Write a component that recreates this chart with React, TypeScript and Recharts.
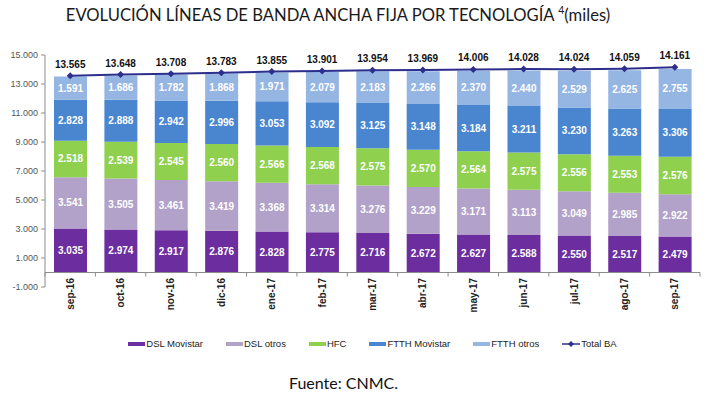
import { ComposedChart, Bar, Line, XAxis, YAxis, LabelList, ReferenceLine } from 'recharts'

const months = ['sep-16', 'oct-16', 'nov-16', 'dic-16', 'ene-17', 'feb-17', 'mar-17', 'abr-17', 'may-17', 'jun-17', 'jul-17', 'ago-17', 'sep-17']
const dslMovistar = [3035, 2974, 2917, 2876, 2828, 2775, 2716, 2672, 2627, 2588, 2550, 2517, 2479]
const dslOtros = [3541, 3505, 3461, 3419, 3368, 3314, 3276, 3229, 3171, 3113, 3049, 2985, 2922]
const hfc = [2518, 2539, 2545, 2560, 2566, 2568, 2575, 2570, 2564, 2575, 2556, 2553, 2576]
const ftthMovistar = [2828, 2888, 2942, 2996, 3053, 3092, 3125, 3148, 3184, 3211, 3230, 3263, 3306]
const ftthOtros = [1591, 1686, 1782, 1868, 1971, 2079, 2183, 2266, 2370, 2440, 2529, 2625, 2755]
const totalBA = [13565, 13648, 13708, 13783, 13855, 13901, 13954, 13969, 14006, 14028, 14024, 14059, 14161]
const yTicks = [-1000, 1000, 3000, 5000, 7000, 9000, 11000, 13000, 15000]

const series = [
  { key: 'dslMovistar', name: 'DSL Movistar', color: '#6c2d9e' },
  { key: 'dslOtros', name: 'DSL otros', color: '#b2a2c9' },
  { key: 'hfc', name: 'HFC', color: '#8fd04e' },
  { key: 'ftthMovistar', name: 'FTTH Movistar', color: '#4a86cf' },
  { key: 'ftthOtros', name: 'FTTH otros', color: '#95b5e3' },
]
const lineColor = '#2c2f8c'

const data = months.map((m, i) => ({
  month: m,
  dslMovistar: dslMovistar[i],
  dslOtros: dslOtros[i],
  hfc: hfc[i],
  ftthMovistar: ftthMovistar[i],
  ftthOtros: ftthOtros[i],
  total: totalBA[i],
}))

const fmt = (v: number) => {
  const s = Math.abs(v).toString().replace(/\B(?=(\d{3})+(?!\d))/g, '.')
  return v < 0 ? '-' + s : s
}

const font = '"Liberation Sans", Arial, sans-serif'

function MonthTick({ x, y, payload, index }: any) {
  const half = payload?.offset || 25.2
  const zeroY = y - 14.5
  return (
    <g>
      <line x1={x - half} x2={x - half} y1={zeroY} y2={zeroY + 4} stroke="#8c8c8c" />
      {index === months.length - 1 && (
        <line x1={x + half} x2={x + half} y1={zeroY} y2={zeroY + 4} stroke="#8c8c8c" />
      )}
      <text
        x={0}
        y={0}
        transform={`translate(${x + 3.5},${y - 9}) rotate(-90)`}
        textAnchor="end"
        fontSize={10}
        fontWeight="bold"
        fontFamily={font}
        fill="#222"
      >
        {payload.value}
      </text>
    </g>
  )
}

function Diamond({ cx, cy }: any) {
  if (cx == null || cy == null) return null
  return <path d={`M${cx},${cy - 3.5}L${cx + 3.5},${cy}L${cx},${cy + 3.5}L${cx - 3.5},${cy}Z`} fill={lineColor} />
}

export default function App() {
  return (
    <div style={{ position: 'relative', width: 719, height: 398, background: '#fff', fontFamily: font }}>
      <style>{'body{margin:0}'}</style>
      <div
        style={{
          position: 'absolute',
          left: 0,
          width: 676,
          top: 4,
          textAlign: 'center',
          fontFamily: 'Lato, "Open Sans", sans-serif',
          fontSize: 16.6,
          color: '#1a1a1a',
          whiteSpace: 'nowrap',
        }}
      >
        EVOLUCIÓN LÍNEAS DE BANDA ANCHA FIJA POR TECNOLOGÍA <sup style={{ fontSize: 10.5 }}>4</sup>(miles)
      </div>
      <ComposedChart
        width={719}
        height={398}
        data={data}
        margin={{ top: 55, right: 19, bottom: 81, left: 0 }}
        barSize={33}
      >
        <YAxis
          domain={[-1000, 15000]}
          ticks={yTicks}
          interval={0}
          width={45}
          tickFormatter={fmt}
          tick={{ fill: '#555', fontSize: 9, fontFamily: font }}
          tickSize={4}
          tickMargin={3}
          axisLine={{ stroke: '#8c8c8c' }}
          tickLine={{ stroke: '#8c8c8c' }}
        />
        <XAxis
          dataKey="month"
          height={30}
          interval={0}
          tickSize={0}
          tickMargin={0}
          axisLine={false}
          tickLine={false}
          tick={<MonthTick />}
        />
        <ReferenceLine y={0} stroke="#8c8c8c" />
        {series.map(s => (
          <Bar key={s.key} dataKey={s.key} name={s.name} stackId="a" fill={s.color} isAnimationActive={false}>
            <LabelList
              dataKey={s.key}
              position="center"
              formatter={(v: any) => fmt(v as number)}
              fill="#fff"
              fontSize={10}
              fontWeight="bold"
              fontFamily={font}
            />
          </Bar>
        ))}
        <Line
          dataKey="total"
          name="Total BA"
          type="linear"
          stroke={lineColor}
          strokeWidth={2}
          dot={<Diamond />}
          isAnimationActive={false}
        >
          <LabelList
            dataKey="total"
            position="top"
            offset={8}
            formatter={(v: any) => fmt(v as number)}
            fill="#111"
            fontSize={10}
            fontWeight="bold"
            fontFamily={font}
          />
        </Line>
      </ComposedChart>
      <div
        style={{
          position: 'absolute',
          top: 338,
          left: 45,
          width: 655,
          display: 'flex',
          justifyContent: 'center',
          gap: 23,
          fontSize: 9.5,
          color: '#222',
        }}
      >
        {series.map(s => (
          <div key={s.key} style={{ display: 'flex', alignItems: 'center' }}>
            <span style={{ display: 'inline-block', width: 17, height: 4, background: s.color, marginRight: 1 }} />
            <span>{s.name}</span>
          </div>
        ))}
        <div style={{ display: 'flex', alignItems: 'center' }}>
          <svg width={18} height={8} style={{ marginRight: 1 }}>
            <line x1={0} x2={18} y1={4} y2={4} stroke={lineColor} strokeWidth={1.5} />
            <path d="M9,1L12,4L9,7L6,4Z" fill={lineColor} />
          </svg>
          <span>Total BA</span>
        </div>
      </div>
      <div
        style={{
          position: 'absolute',
          top: 373,
          left: 0,
          width: 687,
          textAlign: 'center',
          fontFamily: 'Lato, "Open Sans", sans-serif',
          fontSize: 16,
          color: '#111',
        }}
      >
        Fuente: CNMC.
      </div>
    </div>
  )
}
